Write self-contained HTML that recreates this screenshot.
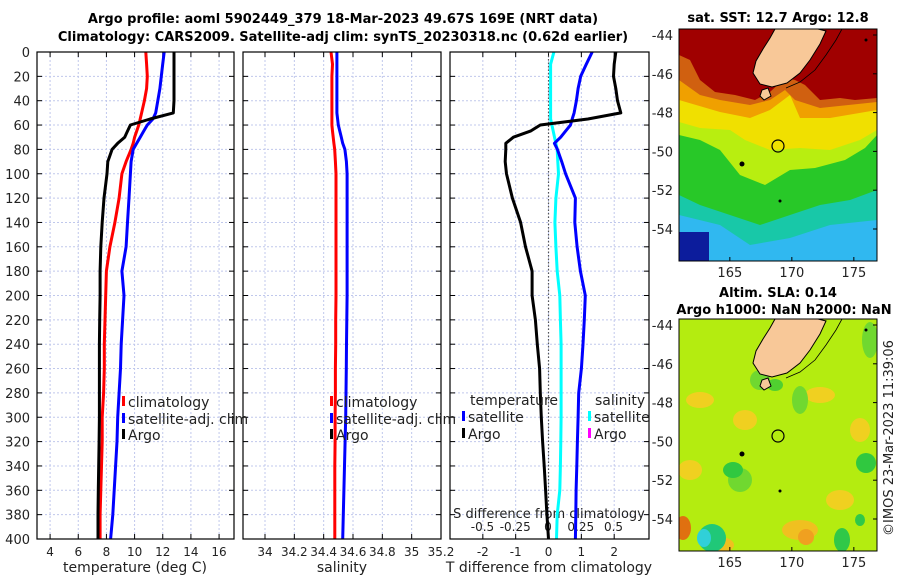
<!DOCTYPE html>
<html><head><meta charset="utf-8"><style>
html,body{margin:0;padding:0;background:#fff;}
svg{display:block;font-family:"DejaVu Sans","Liberation Sans",sans-serif;}
.t{font-size:13px;fill:#222;}
.s{font-size:12px;fill:#222;}
.b{font-size:13px;font-weight:bold;fill:#000;}
</style></head><body>
<svg id="c" width="900" height="580" viewBox="0 0 900 580">
<g id="maps"></g>
<g id="plots"></g>
</svg>
<script>
// ---- data ----
const depths = [0,10,20,30,40,50,55,60,65,70,75,80,90,100,120,140,160,180,200,220,240,260,280,300,320,340,360,380,400];
const tempClim = [10.8,10.85,10.9,10.85,10.7,10.5,10.4,10.3,10.15,10.0,9.9,9.75,9.4,9.1,8.9,8.6,8.25,8.0,7.95,7.9,7.85,7.85,7.8,7.7,7.7,7.65,7.6,7.55,7.55];
const tempSat = [12.1,12.0,11.9,11.8,11.65,11.5,11.3,10.9,10.65,10.4,10.15,9.9,9.75,9.7,9.6,9.5,9.4,9.1,9.25,9.15,9.05,9.0,8.9,8.8,8.75,8.65,8.55,8.45,8.3];
const tempArgo = [12.8,12.8,12.8,12.8,12.8,12.75,11.1,9.7,9.5,9.3,8.8,8.4,8.1,8.04,7.83,7.7,7.6,7.55,7.55,7.52,7.5,7.5,7.5,7.5,7.48,7.45,7.42,7.4,7.4];
const salClim = [34.45,34.46,34.456,34.456,34.456,34.456,34.456,34.456,34.46,34.465,34.47,34.475,34.48,34.484,34.484,34.484,34.484,34.484,34.484,34.482,34.482,34.48,34.48,34.478,34.478,34.476,34.476,34.476,34.476];
const salSat = [34.49,34.49,34.49,34.49,34.49,34.49,34.495,34.5,34.51,34.52,34.53,34.545,34.555,34.56,34.56,34.56,34.56,34.56,34.56,34.558,34.556,34.554,34.552,34.55,34.546,34.542,34.538,34.534,34.53];
const dTSat = [1.33,1.15,0.98,0.9,0.85,0.78,0.72,0.67,0.52,0.37,0.18,0.27,0.4,0.52,0.82,0.8,0.87,0.97,1.12,1.09,1.05,1.0,0.92,0.9,0.88,0.86,0.84,0.83,0.82];
const dTArgo = [2.05,2.0,1.98,2.05,2.1,2.2,1.2,-0.25,-0.55,-1.07,-1.3,-1.3,-1.32,-1.28,-1.1,-0.85,-0.7,-0.5,-0.5,-0.4,-0.34,-0.27,-0.25,-0.22,-0.18,-0.13,-0.09,-0.05,0.0];
const dSSat = [0.045,0.02,0.02,0.02,0.02,0.02,0.02,0.03,0.04,0.05,0.06,0.07,0.075,0.08,0.06,0.053,0.06,0.07,0.09,0.095,0.1,0.1,0.1,0.1,0.098,0.095,0.09,0.07,0.065];
const depthTicks = [0,20,40,60,80,100,120,140,160,180,200,220,240,260,280,300,320,340,360,380,400];
const tempTicks = [4,6,8,10,12,14,16];
const salTicks = [34,34.2,34.4,34.6,34.8,35,35.2];
const salTickLabels = ["34","34.2","34.4","34.6","34.8","35","35.2"];
const dTTicks = [-2,-1,0,1,2];
const dTTickLabels = ["-2","-1","0","1","2"];
const dSTicks = [-0.5,-0.25,0,0.25,0.5];
const dSTickLabels = ["-0.5","-0.25","0","0.25","0.5"];
const lonTicks = [165,170,175];
const latTicks = [-44,-46,-48,-50,-52,-54];

const NS="http://www.w3.org/2000/svg";
function el(tag,attrs,parent,txt){const e=document.createElementNS(NS,tag);for(const k in attrs)e.setAttribute(k,attrs[k]);if(txt!==undefined)e.textContent=txt;parent.appendChild(e);return e;}
const plots=document.getElementById('plots');
const maps=document.getElementById('maps');
const Y0=52,Y1=539;
const yS=d=>Y0+(Y1-Y0)*d/400;
const panels=[
 {x0:37,x1:234,min:3.07,max:17.06},
 {x0:243,x1:441,min:33.85,max:35.2},
 {x0:450,x1:649,min:-3.0,max:3.06}
];
function xs(p){return v=>p.x0+(v-p.min)*(p.x1-p.x0)/(p.max-p.min);}
const xT=xs(panels[0]),xSal=xs(panels[1]),xD=xs(panels[2]);
const xDS=v=>548+v*131;

let tt=el('text',{x:343,y:23,'text-anchor':'middle',class:'b'},plots,'Argo profile: aoml 5902449_379 18-Mar-2023 49.67S 169E (NRT data)');

tt=el('text',{x:343,y:41,'text-anchor':'middle',class:'b'},plots,'Climatology: CARS2009. Satellite-adj clim: synTS_20230318.nc (0.62d earlier)');


const ticksX=[[tempTicks,tempTicks.map(String),xT],[salTicks,salTickLabels,xSal],[dTTicks,dTTickLabels,xD]];
const names=['temperature','salinity','difference'];
panels.forEach((p,i)=>{
  const g=el('g',{},plots);
  
  
  el('rect',{x:p.x0,y:Y0,width:p.x1-p.x0,height:Y1-Y0,fill:'#fff'},g);
  depthTicks.forEach(d=>{
    if(d>0&&d<400) el('line',{x1:p.x0,x2:p.x1,y1:yS(d),y2:yS(d),stroke:'#c0c8ec','stroke-width':1,'stroke-dasharray':'2,2'},g);
    el('line',{x1:p.x0,x2:p.x0+5,y1:yS(d),y2:yS(d),stroke:'#000'},g);
    el('line',{x1:p.x1-5,x2:p.x1,y1:yS(d),y2:yS(d),stroke:'#000'},g);
  });
  const [tk,tl,sc]=ticksX[i];
  tk.forEach((v,j)=>{
    const x=sc(v);
    if(x>p.x0+1&&x<p.x1-1){
      el('line',{x1:x,x2:x,y1:Y0,y2:Y1,stroke:'#c0c8ec','stroke-width':1,'stroke-dasharray':'2,2'},g);
      el('line',{x1:x,x2:x,y1:Y1-5,y2:Y1,stroke:'#000'},g);
      el('line',{x1:x,x2:x,y1:Y0,y2:Y0+5,stroke:'#000'},g);
    }
    const lb=el('text',{x:x,y:556,'text-anchor':'middle',class:'s'},g,tl[j]);
    
    
  });
});
depthTicks.forEach(d=>{
  const t=el('text',{x:30,y:yS(d)+5,'text-anchor':'end',class:'t'},plots,String(d));
  
  
});
el('line',{x1:xD(0),x2:xD(0),y1:Y0,y2:Y1,stroke:'#555','stroke-width':1.2,'stroke-dasharray':'1.5,2'},plots);
dSTicks.forEach((v,j)=>{
  const t=el('text',{x:xDS(v),y:531,'text-anchor':'middle',class:'s'},plots,dSTickLabels[j]);
  
  
});
let ax=el('text',{x:549,y:518,'text-anchor':'middle',class:'t'},plots,'S difference from climatology');


function line(vals,sc,color,nm,w){
  const pts=vals.map((v,i)=>sc(v).toFixed(1)+','+yS(depths[i]).toFixed(1)).join(' ');
  const pl=el('polyline',{points:pts,fill:'none',stroke:color,'stroke-width':w||3,'stroke-linejoin':'round'},plots);
  
  
}
line(tempClim,xT,'#ff0000','temp-climatology-line');
line(tempSat,xT,'#0000ff','temp-satellite-line');
line(tempArgo,xT,'#000','temp-argo-line');
line(salClim,xSal,'#ff0000','sal-climatology-line');
line(salSat,xSal,'#0000ff','sal-satellite-line');
line(dSSat,xDS,'#00ffff','s-diff-satellite-line');
line(dTSat,xD,'#0000ff','t-diff-satellite-line');
line(dTArgo,xD,'#000','t-diff-argo-line');
panels.forEach(p=>el('rect',{x:p.x0,y:Y0,width:p.x1-p.x0,height:Y1-Y0,fill:'none',stroke:'#000','stroke-width':1.2},plots));

[[135,572,'temperature (deg C)'],[342,572,'salinity'],[549,572,'T difference from climatology']].forEach((a,i)=>{
  const t=el('text',{x:a[0],y:a[1],'text-anchor':'middle',class:'t',style:'font-size:14px'},plots,a[2]);
  
  
});
function leg(x,y,color,label){
  el('rect',{x:x,y:y-11,width:3,height:10,fill:color},plots);
  const t=el('text',{x:x+6,y:y,class:'t',style:'font-size:14px'},plots,label);
  
  
}
leg(122,407,'#ff0000','climatology');leg(122,424,'#0000ff','satellite-adj. clim');leg(122,440,'#000','Argo');
leg(330,407,'#ff0000','climatology');leg(330,424,'#0000ff','satellite-adj. clim');leg(330,440,'#000','Argo');
let tx=el('text',{x:470,y:405,class:'t',style:'font-size:14px'},plots,'temperature');
tx=el('text',{x:595,y:405,class:'t',style:'font-size:14px'},plots,'salinity');
leg(462,422,'#0000ff','satellite');leg(462,439,'#000','Argo');
leg(588,422,'#00ffff','satellite');leg(588,439,'#ff00ff','Argo');

function map(oy,kind){
  const g=el('g',{},maps);
  
  
  const X0=679,X1=877,T=29+oy,B=261+oy;
  const cid='clip'+kind;
  const cp=el('clipPath',{id:cid},g);el('rect',{x:X0,y:T,width:X1-X0,height:B-T},cp);
  const m=el('g',{'clip-path':'url(#'+cid+')'},g);
  const P=(pts)=>pts.map(p=>p[0]+','+(p[1]+oy)).join(' ');
  if(kind==='sst'){
    el('rect',{x:X0,y:T,width:198,height:232,fill:'#28c828'},m);
    el('polygon',{points:P([[679,195],[700,205],[730,215],[760,225],[790,215],[820,205],[850,200],[877,190],[877,261],[679,261]]),fill:'#18c8a8'},m);
    el('polygon',{points:P([[679,215],[720,225],[750,245],[790,238],[830,225],[877,220],[877,261],[679,261]]),fill:'#30b8f0'},m);
    el('rect',{x:679,y:232+oy,width:30,height:30,fill:'#0c1c9c'},m);
    el('polygon',{points:P([[679,135],[700,140],[720,150],[740,175],[765,185],[790,170],[815,168],[845,160],[865,148],[877,135],[877,29],[679,29]]),fill:'#b8ee10'},m);
    el('polygon',{points:P([[679,122],[700,128],[730,130],[745,140],[770,150],[800,148],[830,150],[860,140],[877,130],[877,29],[679,29]]),fill:'#f0e000'},m);
    el('polygon',{points:P([[679,100],[720,112],[750,118],[770,110],[790,95],[800,118],[830,118],[877,110],[877,29],[679,29]]),fill:'#f0a000'},m);
    el('polygon',{points:P([[679,80],[700,95],[720,100],[750,105],[770,100],[785,90],[795,100],[820,108],[877,102],[877,29],[679,29]]),fill:'#d06010'},m);
    el('polygon',{points:P([[679,29],[877,29],[877,98],[855,100],[840,98],[820,100],[805,85],[795,80],[785,78],[770,92],[755,100],[735,95],[715,92],[700,80],[690,60],[679,55]]),fill:'#a00000'},m);
  } else {
    el('rect',{x:X0,y:T,width:198,height:232,fill:'#b4ec10'},m);
    [[700,400,14,8,'#f0d020'],[745,420,12,10,'#f0d020'],[820,395,15,8,'#f0d020'],[860,430,10,12,'#f0d020'],[690,470,12,10,'#f0d020'],[840,500,14,10,'#f0d020'],[800,530,18,10,'#f0c020'],[720,545,14,8,'#f0c020'],
     [870,340,8,18,'#70d830'],[760,380,10,10,'#70d830'],[800,400,8,14,'#70d830'],[740,480,12,12,'#70d830'],[866,463,10,10,'#30c840'],[733,470,10,8,'#30c840'],[842,540,8,12,'#30c848'],[860,520,5,6,'#30c848'],[775,385,8,6,'#50d030'],
     [683,528,8,12,'#e07010'],[806,537,8,8,'#f0a020'],[712,538,14,14,'#20c878']].forEach(e=>el('ellipse',{cx:e[0],cy:e[1],rx:e[2],ry:e[3],fill:e[4]},m));
    el('ellipse',{cx:704,cy:538,rx:7,ry:9,fill:'#30d0d8'},m);
  }
  const land=el('polygon',{points:P([[775,29],[818,29],[826,31],[820,44],[810,60],[800,73],[787,83],[772,87],[760,84],[753,73],[756,61],[763,49],[770,38]]),fill:'#f8c898',stroke:'#000','stroke-width':1},m);
  
  
  el('polygon',{points:P([[762,90],[768,88],[771,96],[764,100],[760,96]]),fill:'#f8c898',stroke:'#000','stroke-width':1},m);
  el('path',{d:'M842 29 L836 40 L826 55 L815 70 L800 82 L786 88',fill:'none',stroke:'#000','stroke-width':0.8,transform:'translate(0,'+oy+')'},m);
  el('circle',{cx:742,cy:164+oy,r:2.5,fill:'#000'},m);
  el('circle',{cx:780,cy:201+oy,r:1.5,fill:'#000'},m);
  el('circle',{cx:866,cy:40+oy,r:1.5,fill:'#000'},m);
  const c=el('circle',{cx:778,cy:146+oy,r:6,fill:'none',stroke:'#000','stroke-width':1.2},m);
  
  
  el('rect',{x:X0,y:T,width:X1-X0,height:B-T,fill:'none',stroke:'#000','stroke-width':1},g);
  const lx=v=>X0+(v-160.9)*12.4;
  const ly=v=>35+oy+(-44-v)*19.4;
  lonTicks.forEach(v=>{
    el('line',{x1:lx(v),x2:lx(v),y1:B-4,y2:B,stroke:'#000'},g);
    const t=el('text',{x:lx(v),y:B+16,'text-anchor':'middle',class:'t'},g,String(v));
    
    
  });
  latTicks.forEach(v=>{
    el('line',{x1:X1-4,x2:X1,y1:ly(v),y2:ly(v),stroke:'#000'},g);
    const t=el('text',{x:673,y:ly(v)+5,'text-anchor':'end',class:'t'},g,String(v));
    
    
  });
}
map(0,'sst');
map(290,'sla');
let mt=el('text',{x:778,y:22,'text-anchor':'middle',class:'b'},maps,'sat. SST: 12.7 Argo: 12.8');

mt=el('text',{x:778,y:297,'text-anchor':'middle',class:'b'},maps,'Altim. SLA: 0.14');

mt=el('text',{x:784,y:314,'text-anchor':'middle',class:'b'},maps,'Argo h1000: NaN h2000: NaN');

mt=el('text',{x:0,y:0,'text-anchor':'middle',class:'t',transform:'translate(893,438) rotate(-90)'},maps,'©IMOS 23-Mar-2023 11:39:06');

</script>
</body></html>
